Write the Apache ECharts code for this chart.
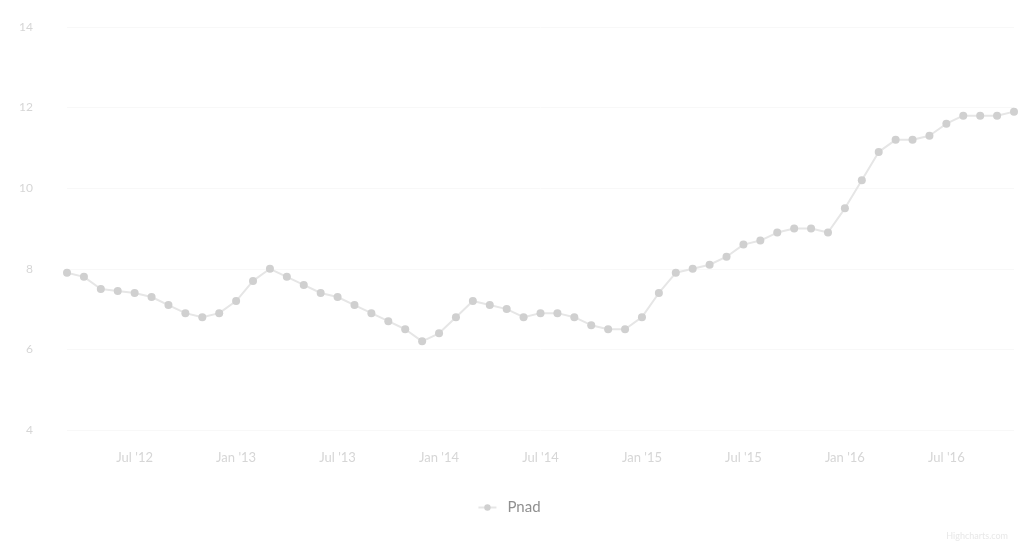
<!DOCTYPE html>
<html>
<head>
<meta charset="utf-8">
<script src="https://cdn.jsdelivr.net/npm/echarts@6/dist/echarts.min.js"></script>
<style>
  html, body { margin: 0; padding: 0; background: #fff; }
  #chart { width: 1018px; height: 549px; }
</style>
</head>
<body>
<div id="chart"></div>
<script>
// meses de mar/2012 a nov/2016
const months = ['Jan', 'Feb', 'Mar', 'Apr', 'May', 'Jun', 'Jul', 'Aug', 'Sep', 'Oct', 'Nov', 'Dec'];
const categories = [];
for (let y = 2012; y <= 2016; y++) {
  for (let m = 0; m < 12; m++) {
    if (y === 2012 && m < 2) continue;
    if (y === 2016 && m > 10) continue;
    categories.push(months[m] + " '" + String(y).slice(2));
  }
}

// taxa de desocupação - Pnad
const pnadValues = [
  7.9, 7.8, 7.5, 7.45, 7.4, 7.3, 7.1, 6.9, 6.8, 6.9,
  7.2, 7.7, 8.0, 7.8, 7.6, 7.4, 7.3, 7.1, 6.9, 6.7, 6.5, 6.2,
  6.4, 6.8, 7.2, 7.1, 7.0, 6.8, 6.9, 6.9, 6.8, 6.6, 6.5, 6.5,
  6.8, 7.4, 7.9, 8.0, 8.1, 8.3, 8.6, 8.7, 8.9, 9.0, 9.0, 8.9,
  9.5, 10.2, 10.9, 11.2, 11.2, 11.3, 11.6, 11.8, 11.8, 11.8, 11.9
];

const yTicks = { min: 4, max: 14, step: 2 };

let chart = echarts.init(document.getElementById('chart'));
let option = {
  animation: false,
  textStyle: { fontFamily: 'Lato' },
  grid: {
    left: 67,
    right: 4,
    top: 27,
    bottom: 119
  },
  legend: {
    bottom: 29,
    left: 'center',
    itemWidth: 18,
    itemHeight: 8,
    itemGap: 10,
    textStyle: { color: '#909090', fontSize: 15, padding: [0, 0, 0, 6] },
    data: ['Pnad']
  },
  xAxis: {
    type: 'category',
    boundaryGap: false,
    data: categories,
    axisLine: { show: false },
    axisTick: { show: false },
    splitLine: { show: false },
    axisLabel: {
      color: '#d6d6d6',
      fontSize: 13,
      margin: 21,
      interval: function (idx) { return (idx - 4) % 6 === 0; }
    }
  },
  yAxis: {
    type: 'value',
    min: yTicks.min,
    max: yTicks.max,
    interval: yTicks.step,
    axisLine: { show: false },
    axisTick: { show: false },
    axisLabel: { color: '#d6d6d6', fontSize: 12, margin: 34 },
    splitLine: { lineStyle: { color: '#f8f8f8' } }
  },
  series: [
    {
      name: 'Pnad',
      type: 'line',
      data: pnadValues,
      symbol: 'circle',
      symbolSize: 8,
      itemStyle: { color: '#d0d0d0' },
      lineStyle: { color: '#e6e6e6', width: 2 }
    }
  ],
  graphic: [
    {
      type: 'text',
      right: 10,
      bottom: 8,
      style: { text: 'Highcharts.com', fill: '#e8e8e8', fontSize: 9, fontFamily: 'Lato' }
    }
  ]
};
chart.setOption(option);
</script>
</body>
</html>
